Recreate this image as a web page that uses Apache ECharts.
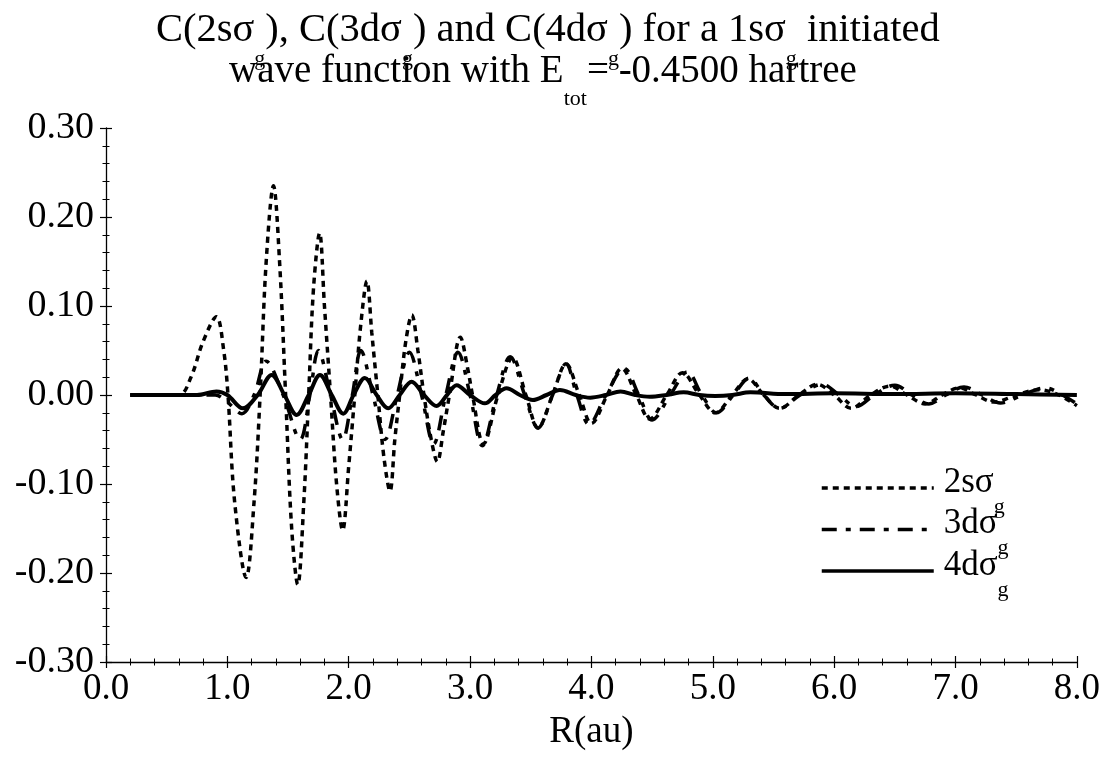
<!DOCTYPE html>
<html><head><meta charset="utf-8">
<script src="https://cdn.jsdelivr.net/npm/echarts@6/dist/echarts.min.js"></script>
<style>html,body{margin:0;padding:0;background:#fff}#c{width:1103px;height:760px}</style>
</head><body><div id="c"></div>
<script>
// 2sσg (dotted)
const r2s = [0.2,0.6,0.7,0.8,0.91,0.97,1.005,1.06,1.155,1.22,1.27,1.32,1.38,1.43,1.48,1.53,1.58,1.63,1.67,1.71,1.76,1.80,1.85,1.90,1.95,2.0,2.05,2.10,2.15,2.19,2.24,2.29,2.34,2.38,2.42,2.47,2.52,2.57,2.62,2.68,2.73,2.78,2.83,2.92,2.98,3.02,3.11,3.23,3.35,3.46,3.56,3.68,3.79,3.90,4.0,4.13,4.25,4.37,4.48,4.62,4.75,4.89,5.02,5.16,5.29,5.42,5.55,5.71,5.86,6.0,6.14,6.30,6.46,6.60,6.75,6.89,7.03,7.17,7.32,7.50,7.69,7.85,8.0];
const v2s = [0,0,0.02,0.06,0.088,0.05,0,-0.12,-0.205,-0.12,0,0.15,0.235,0.15,0,-0.15,-0.213,-0.12,0,0.12,0.182,0.1,0,-0.1,-0.152,-0.08,0,0.08,0.128,0.07,0,-0.07,-0.108,-0.05,0,0.06,0.09,0.05,0,-0.05,-0.075,-0.04,0,0.065,0.03,0,-0.055,0,0.042,0,-0.037,0,0.035,0,-0.032,0,0.03,0,-0.027,0,0.025,0,-0.02,0,0.018,0,-0.015,0,0.012,0,-0.015,0,0.01,0,-0.01,0,0.008,0,-0.008,0,0.006,0,-0.012];
// 3dσg (dash-dot)
const r3d = [0.2,0.9,1.0,1.12,1.22,1.32,1.46,1.60,1.68,1.75,1.85,1.95,2.03,2.10,2.2,2.30,2.40,2.50,2.60,2.70,2.80,2.90,3.0,3.10,3.22,3.33,3.45,3.56,3.68,3.79,3.88,3.98,4.12,4.27,4.39,4.50,4.65,4.79,4.91,5.03,5.17,5.30,5.42,5.55,5.72,5.90,6.04,6.18,6.33,6.50,6.64,6.78,6.92,7.07,7.22,7.37,7.55,7.74,7.88,8.0];
const v3d = [0,0,-0.008,-0.021,0,0.038,0,-0.05,0,0.05,0,-0.05,0,0.05,0,-0.05,0,0.048,0,-0.055,0,0.048,0,-0.057,0,0.043,0,-0.037,0,0.035,0,-0.033,0,0.03,0,-0.028,0,0.026,0,-0.02,0,0.019,0,-0.015,0,0.012,0,-0.013,0,0.011,0,-0.01,0,0.009,0,-0.009,0,0.008,0,-0.01];
// 4dσg (solid)
const r4d = [0.2,0.75,0.91,1.0,1.128,1.25,1.365,1.47,1.571,1.67,1.763,1.86,1.955,2.04,2.133,2.23,2.325,2.42,2.518,2.62,2.724,2.81,2.889,3.0,3.122,3.21,3.30,3.41,3.517,3.63,3.74,3.87,3.99,4.12,4.24,4.36,4.48,4.62,4.76,4.89,5.02,5.16,5.31,5.6,6.0,6.5,7.0,7.5,8.0];
const v4d = [0,0,0.004,0,-0.015,0,0.0225,0,-0.0225,0,0.0225,0,-0.021,0,0.019,0,-0.015,0,0.015,0,-0.0124,0,0.011,0,-0.0094,0,0.0075,0,-0.0056,0,0.0056,0,-0.003,0,0.004,0,-0.002,0,0.003,0,-0.001,0,0.003,0.001,0.002,0.001,0.002,0.001,0];

const FONT = '"Liberation Serif","Times New Roman",serif';
const chart = echarts.init(document.getElementById('c'), null, {renderer:'canvas'});
function pairs(r, v){ return r.map((x,i)=>[x, v[i]]); }
const sub = (P, fs) => ({fontFamily: FONT, fontWeight:'normal', fontSize: fs, lineHeight: fs, padding:[P,0,0,0], verticalAlign:'top', color:'#000'});
const main = (fs, lh) => ({fontFamily: FONT, fontWeight:'normal', fontSize: fs, lineHeight: lh, verticalAlign:'top', color:'#000'});

const yTickAxis = (inside, showLabel) => ({
  type:'value', min:-0.3, max:0.3, interval:0.1, position:'left', offset:0,
  axisLine:{show: showLabel, onZero:false, lineStyle:{color:'#000', width:1.3}},
  axisTick:{show:true, inside: inside, length:6, lineStyle:{color:'#000', width:1.2}},
  minorTick:{show:true, splitNumber:5, length:3.5, lineStyle:{color:'#000', width:1}},
  splitLine:{show:false},
  axisLabel:{show: showLabel, fontFamily: FONT, fontSize:38, color:'#000', margin:12,
    formatter: v => v.toFixed(2)}
});
const xTickAxis = (inside, showLabel) => ({
  type:'value', min:0, max:8, interval:1, position:'bottom', offset:0,
  axisLine:{show: showLabel, onZero:false, lineStyle:{color:'#000', width:1.3}},
  axisTick:{show:true, inside: inside, length:6, lineStyle:{color:'#000', width:1.2}},
  minorTick:{show:true, splitNumber:5, length:3.5, lineStyle:{color:'#000', width:1}},
  splitLine:{show:false},
  axisLabel:{show: showLabel, fontFamily: FONT, fontSize:37, color:'#000', margin:9,
    formatter: v => v.toFixed(1)},
  name: showLabel ? 'R(au)' : '', nameLocation:'middle', nameGap:52,
  nameTextStyle:{fontFamily: FONT, fontSize:37, color:'#000'}
});

chart.setOption({
  backgroundColor:'#fff',
  animation:false,
  title:[
    {text:'{a|C(2sσ}{s|g}{a|), C(3dσ}{s|g}{a|) and C(4dσ}{s|g}{a|) for a 1sσ}{s|g}{a| initiated}',
     left:156, top:10, padding:0,
     textStyle:{fontWeight:'normal', rich:{a: main(40.5,42), s: sub(38,22)}}},
    {text:'{a|wave function with E}{s|tot}{a|= -0.4500 hartree}',
     left:229, top:52, padding:0,
     textStyle:{fontWeight:'normal', rich:{a: main(39,42), s: sub(36,22)}}}
  ],
  grid:{left:106, right:26, top:128, bottom:98, containLabel:false},
  xAxis:[xTickAxis(false,true), xTickAxis(true,false)],
  yAxis:[yTickAxis(false,true), yTickAxis(true,false)],
  legend:{
    orient:'vertical', left:820, top:465, padding:0, itemGap:-11.5,
    itemWidth:112, itemHeight:14,
    data:['2sσg','3dσg','4dσg'],
    formatter: n => '{a|' + n.slice(0,-1) + '}{s|g}',
    itemStyle:{color:'rgba(0,0,0,0)', borderColor:'rgba(0,0,0,0)', borderWidth:0, opacity:0},
    lineStyle:{width:3.5},
    textStyle:{padding:[0,0,12,5], rich:{a: main(35, 34), s: sub(31, 22)}}
  },
  series:[
    {name:'2sσg', type:'line', data:pairs(r2s,v2s), symbol:'none', smooth:0.35,
     lineStyle:{color:'#000', width:3.5, type:[6,5]}, z:3},
    {name:'3dσg', type:'line', data:pairs(r3d,v3d), symbol:'none', smooth:0.35,
     lineStyle:{color:'#000', width:3.5, type:[15,9,5,9]}, z:2},
    {name:'4dσg', type:'line', data:pairs(r4d,v4d), symbol:'none', smooth:0.35,
     lineStyle:{color:'#000', width:4}, z:4}
  ]
});
</script></body></html>
